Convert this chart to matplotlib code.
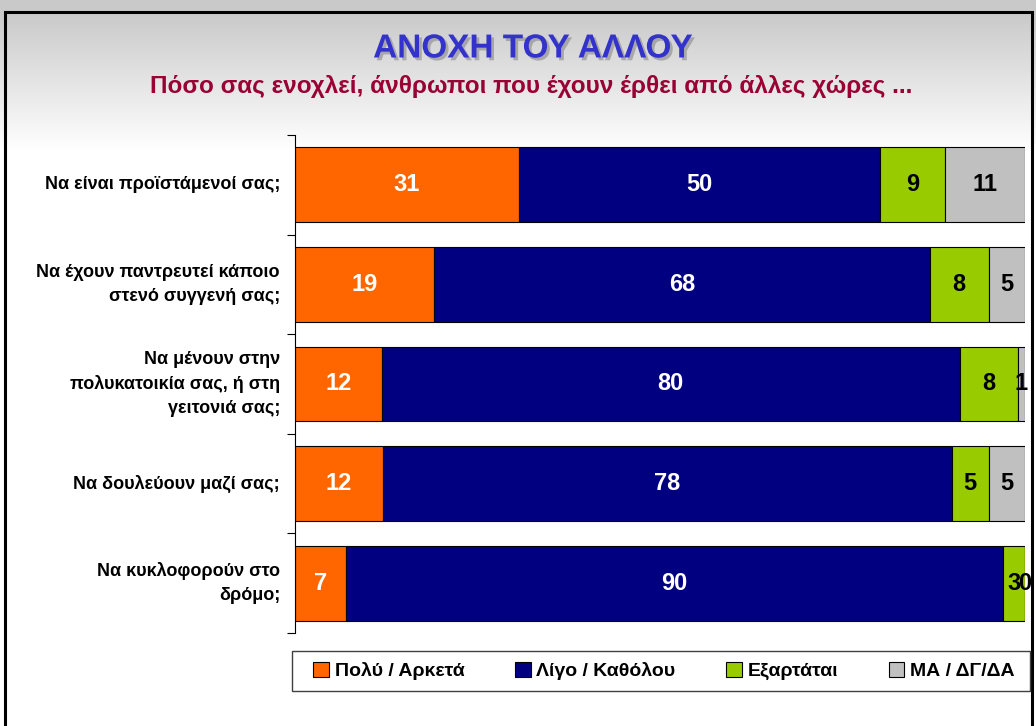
import numpy as np
import matplotlib
matplotlib.use("Agg")
import matplotlib.pyplot as plt
from matplotlib.patches import Patch, Rectangle
import matplotlib.patheffects as pe

plt.rcParams['font.family'] = ['Liberation Sans Narrow', 'Liberation Sans', 'DejaVu Sans']

# data
categories = ["Να είναι προϊστάμενοί σας;",
              "Να έχουν παντρευτεί κάποιο\nστενό συγγενή σας;",
              "Να μένουν στην\nπολυκατοικία σας, ή στη\nγειτονιά σας;",
              "Να δουλεύουν μαζί σας;",
              "Να κυκλοφορούν στο\nδρόμο;"]
series_names = ["Πολύ / Αρκετά", "Λίγο / Καθόλου", "Εξαρτάται", "ΜΑ / ΔΓ/ΔΑ"]
poly = [31, 19, 12, 12, 7]
ligo = [50, 68, 80, 78, 90]
exart = [9, 8, 8, 5, 3]
ma = [11, 5, 1, 5, 0]

colors = ["#FF6600", "#000080", "#99CC00", "#C0C0C0"]
txt_colors = ["white", "white", "black", "black"]

W, H = 1036, 726
fig = plt.figure(figsize=(W / 100, H / 100), dpi=100)

# background gradient (grey on top -> white)
bg = fig.add_axes([0, 0, 1, 1], zorder=-10)
grad = np.ones((H, 1))
top = 12
fade = 150
for i in range(H):
    if i < fade:
        grad[i, 0] = 0.79 + 0.21 * max(i - top, 0) / (fade - top)
bg.imshow(np.repeat(grad, 3, axis=1).reshape(H, 1, 3).repeat(4, axis=1),
          aspect='auto', extent=[0, 1, 0, 1])
bg.set_xlim(0, 1)
bg.set_ylim(0, 1)
bg.axis('off')
bg.add_patch(Rectangle((5 / W, -0.1), (1032 - 5) / W, 1.1 - 12 / H,
                       fill=False, edgecolor='black', linewidth=2.2))
# legend frame
bg.add_patch(Rectangle((292 / W, 1 - 691 / H), (1030 - 292) / W, 40 / H,
                       facecolor='white', edgecolor='#404040', linewidth=1.0))

# title
fig.text(533 / W, 1 - 49 / H, "ΑΝΟΧΗ ΤΟΥ ΑΛΛΟΥ", ha='center', va='center',
         fontsize=24, fontweight='bold', color='#3333CC',
         path_effects=[pe.withSimplePatchShadow(offset=(2, -2), shadow_rgbFace='#888888', alpha=0.6)])
fig.text(531 / W, 1 - 87 / H, "Πόσο σας ενοχλεί, άνθρωποι που έχουν έρθει από άλλες χώρες ...",
         ha='center', va='center', fontsize=17.5, fontweight='bold', color='#990033')

ax = fig.add_axes([295 / W, 1 - 633 / H, (1025 - 295) / W, (633 - 135) / H])
ax.patch.set_alpha(0)

data = np.array([poly, ligo, exart, ma], dtype=float)
totals = data.sum(axis=0)
pct = data / totals * 100
y = np.arange(len(categories))
left = np.zeros(len(categories))
for k in range(4):
    ax.barh(y, pct[k], left=left, height=0.75, color=colors[k],
            edgecolor='black', linewidth=0.8)
    for j in range(len(categories)):
        cx = left[j] + pct[k][j] / 2
        ax.text(cx, y[j], f"{int(data[k][j])}", ha='center', va='center',
                fontsize=17, fontweight='bold', color=txt_colors[k])
    left += pct[k]

ax.set_xlim(0, 100)
ax.set_ylim(len(categories) - 0.5, -0.5)
for s in ['top', 'right', 'bottom']:
    ax.spines[s].set_visible(False)
ax.spines['left'].set_linewidth(0.8)
ax.set_xticks([])
ax.set_yticks(np.arange(len(categories) + 1) - 0.5)
ax.set_yticklabels([])
ax.tick_params(axis='y', length=6, width=0.8, direction='out')
for j, c in enumerate(categories):
    ax.text(-15 / 730 * 100, y[j], c, ha='right', va='center', fontsize=13,
            fontweight='bold', color='black', linespacing=1.55)

handles = [Patch(facecolor=colors[k], edgecolor='black', linewidth=0.8) for k in range(4)]
leg = fig.legend(handles, series_names, loc='center',
                 bbox_to_anchor=(664 / W, 1 - 671 / H),
                 ncol=4, frameon=False,
                 prop={'weight': 'bold', 'size': 14}, handlelength=0.8, handleheight=0.8,
                 handletextpad=0.3, columnspacing=2.6)

fig.savefig("out.png", dpi=100)
